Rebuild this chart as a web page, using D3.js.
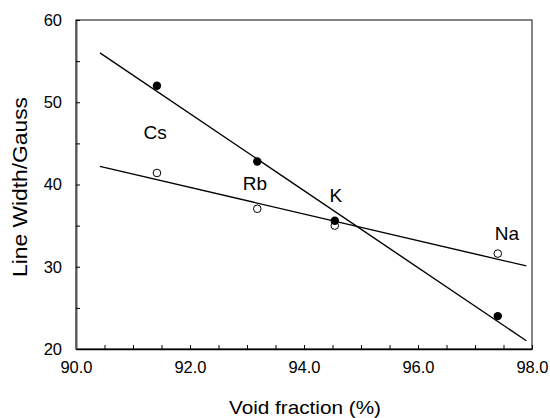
<!DOCTYPE html>
<html>
<head>
<meta charset="utf-8">
<script src="https://cdn.jsdelivr.net/npm/d3@7"></script>
<style>
  body { margin: 0; background: #fff; }
  text { font-family: "Liberation Sans", Arial, sans-serif; fill: #000; }
</style>
</head>
<body>
<div id="wrapper"></div>
<script>
// void fraction (%) of each alkali sample
const elements = ["Cs", "Rb", "K", "Na"];
const voidFraction = [91.42, 93.18, 94.54, 97.4];
// line widths (Gauss), filled and open symbols
const filledWidth = [52.0, 42.8, 35.6, 24.0];
const openWidth = [41.4, 37.05, 35.0, 31.6];
// fitted straight lines, end points
const filledFit = [[90.42, 56.0], [97.9, 21.0]];
const openFit = [[90.42, 42.2], [97.9, 30.1]];
// element label anchors (data units)
const labelX = [91.39, 93.14, 94.56, 97.56];
const labelY = [45.5, 39.3, 37.9, 33.25];
const xTicks = [90, 92, 94, 96, 98];
const yTicks = [20, 30, 40, 50, 60];

let dimensions = {
    width: 550,
    height: 418,
    margin: { top: 20, right: 18, bottom: 69, left: 76 }
};
dimensions.boundedWidth = dimensions.width - dimensions.margin.left - dimensions.margin.right;
dimensions.boundedHeight = dimensions.height - dimensions.margin.top - dimensions.margin.bottom;

const svg = d3.select("#wrapper")
    .append("svg")
    .attr("width", dimensions.width)
    .attr("height", dimensions.height);

const bounds = svg.append("g")
    .attr("transform", "translate(" + dimensions.margin.left + "," + dimensions.margin.top + ")");

const xScale = d3.scaleLinear()
    .domain([90, 98])
    .range([0, dimensions.boundedWidth]);

const yScale = d3.scaleLinear()
    .domain([20, 60])
    .range([dimensions.boundedHeight, 0]);

// frame
bounds.append("rect")
    .attr("width", dimensions.boundedWidth)
    .attr("height", dimensions.boundedHeight)
    .attr("fill", "none")
    .attr("stroke", "#333")
    .attr("stroke-width", 1.2);

// x axis, ticks pointing inward
const xAxis = bounds.append("g")
    .attr("transform", `translate(0,${dimensions.boundedHeight})`)
    .call(d3.axisBottom(xScale)
        .tickValues(d3.range(90, 98.01, 0.5))
        .tickSize(-4)
        .tickSizeOuter(0)
        .tickFormat(d => xTicks.includes(d) ? d3.format(".1f")(d) : ""));
xAxis.select(".domain").attr("stroke", "#000").attr("stroke-width", 1.5);
xAxis.selectAll("text")
    .attr("y", 24)
    .attr("dy", 0)
    .style("font-size", "16.5px")
    .style("font-family", "Liberation Sans, Arial, sans-serif");

// y axis
const yAxis = bounds.append("g")
    .call(d3.axisLeft(yScale)
        .tickValues(d3.range(20, 60.01, 5))
        .tickSize(-4)
        .tickSizeOuter(0)
        .tickFormat(d => yTicks.includes(d) ? d : ""));
yAxis.select(".domain").attr("stroke", "#555").attr("stroke-width", 2);
yAxis.selectAll("text")
    .attr("x", -14)
    .style("font-size", "16.5px")
    .style("font-family", "Liberation Sans, Arial, sans-serif");

// fitted lines
const line = d3.line()
    .x(d => xScale(d[0]))
    .y(d => yScale(d[1]));

[filledFit, openFit].forEach(fit => {
    bounds.append("path")
        .datum(fit)
        .attr("d", line)
        .attr("fill", "none")
        .attr("stroke", "#000")
        .attr("stroke-width", 1.4);
});

// markers
bounds.append("g").selectAll("circle")
    .data(voidFraction)
    .join("circle")
    .attr("cx", d => xScale(d))
    .attr("cy", (d, i) => yScale(openWidth[i]))
    .attr("r", 3.8)
    .attr("fill", "#fff")
    .attr("stroke", "#000")
    .attr("stroke-width", 1);

bounds.append("g").selectAll("circle")
    .data(voidFraction)
    .join("circle")
    .attr("cx", d => xScale(d))
    .attr("cy", (d, i) => yScale(filledWidth[i]))
    .attr("r", 4.2)
    .attr("fill", "#000");

// element labels
bounds.append("g").selectAll("text")
    .data(elements)
    .join("text")
    .attr("x", (d, i) => xScale(labelX[i]))
    .attr("y", (d, i) => yScale(labelY[i]))
    .attr("text-anchor", "middle")
    .style("font-size", "19px")
    .text(d => d);

// axis titles
svg.append("text")
    .attr("x", dimensions.margin.left + dimensions.boundedWidth / 2 + 1)
    .attr("y", 414)
    .attr("text-anchor", "middle")
    .attr("textLength", 152)
    .attr("lengthAdjust", "spacingAndGlyphs")
    .style("font-size", "18.5px")
    .text("Void fraction (%)");

svg.append("text")
    .attr("transform", "translate(27," + 187 + ") rotate(-90)")
    .attr("text-anchor", "middle")
    .attr("textLength", 180)
    .attr("lengthAdjust", "spacingAndGlyphs")
    .style("font-size", "19.5px")
    .text("Line Width/Gauss");
</script>
</body>
</html>
